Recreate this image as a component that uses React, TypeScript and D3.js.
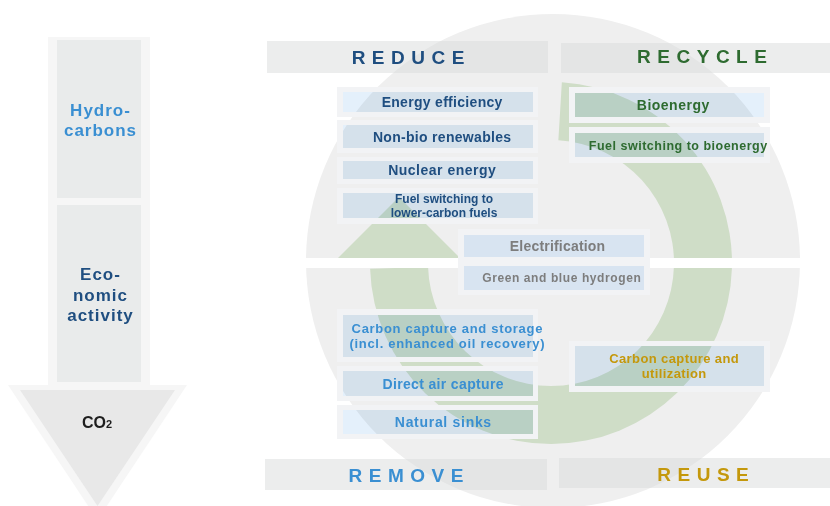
import React from "react";
import * as d3 from "d3";

// ---- content ----
const flowStages = [["Hydro-", "carbons"], ["Eco-", "nomic", "activity"]];
const flowResult = "CO";
const quadrantTitles = ["REDUCE", "RECYCLE", "REMOVE", "REUSE"];
const reduceItems = [["Energy efficiency"], ["Non-bio renewables"], ["Nuclear energy"], ["Fuel switching to", "lower-carbon fuels"]];
const recycleItems = [["Bioenergy"], ["Fuel switching to bioenergy"]];
const crossItems = [["Electrification"], ["Green and blue hydrogen"]];
const removeItems = [["Carbon capture and storage", "(incl. enhanced oil recovery)"], ["Direct air capture"], ["Natural sinks"]];
const reuseItems = [["Carbon capture and", "utilization"]];

const FONT = "'Liberation Sans', Arial, Helvetica, sans-serif";
const C = {
  dark: "#1f4e80",
  light: "#3a8fd2",
  green: "#2e6b30",
  gold: "#c4980c",
  gray: "#7d7d7d",
  circle: "#efefef",
  ring: "#cfddc7",
  frame: "#f2f3f5",
  box: "#e4f0fb",
};

type Box = { x0: number; x1: number; y0: number; y1: number };

function ItemGroup(props: {
  items: string[][];
  inner: Box[];
  frames: Box[];
  color: string;
  cx: number[];
  size: number[];
  ls: number[];
}) {
  const { items, inner, frames, color, cx, size, ls } = props;
  return (
    <g>
      {frames.map((f, i) => {
        const b = inner[i];
        const d = `M${f.x0},${f.y0}H${f.x1}V${f.y1}H${f.x0}Z M${b.x0},${b.y0}H${b.x1}V${b.y1}H${b.x0}Z`;
        return <path key={"f" + i} d={d} fill={C.frame} fillRule="evenodd" />;
      })}
      {inner.map((b, i) => (
        <rect key={"b" + i} x={b.x0} y={b.y0} width={b.x1 - b.x0} height={b.y1 - b.y0} fill={C.box} style={{ mixBlendMode: "multiply" }} />
      ))}
      {items.map((lines, i) => {
        const b = inner[i];
        const mid = (b.y0 + b.y1) / 2;
        const lh = size[i] * 1.15;
        const first = mid - ((lines.length - 1) * lh) / 2 + size[i] * 0.36;
        return (
          <text key={"t" + i} fill={color} fontFamily={FONT} fontWeight="bold" fontSize={size[i]} letterSpacing={ls[i]} textAnchor="middle">
            {lines.map((l, j) => (
              <tspan key={j} x={cx[i] + ls[i] / 2} y={first + j * lh}>
                {l}
              </tspan>
            ))}
          </text>
        );
      })}
    </g>
  );
}

export default function App() {
  const W = 830;
  const H = 506;
  // circle & ring geometry
  const cc = { x: 553, y: 261, r: 247 };
  const rc = { x: 551, y: 263 };
  const ring = d3.arc()({ innerRadius: 123, outerRadius: 181, startAngle: 0.06, endAngle: 4.68 } as any) as string;
  const midR = 152;
  const headBaseY = rc.y + 5;
  const shaftX = rc.x - midR;
  const head = d3.line()([
    [shaftX - 71, headBaseY],
    [shaftX + 71, headBaseY],
    [shaftX, headBaseY - 71],
  ]) + "Z";

  const titleBoxes: Box[] = [
    { x0: 267, x1: 548, y0: 41, y1: 73 },
    { x0: 561, x1: 830, y0: 43, y1: 73 },
    { x0: 265, x1: 547, y0: 459, y1: 490 },
    { x0: 559, x1: 830, y0: 458, y1: 488 },
  ];
  const titleColors = [C.dark, C.green, C.light, C.gold];
  const titleCx = [408, 702, 406, 703];
  const titleBase = [64, 63, 482, 481];

  const rows = (x0: number, x1: number, ys: number[][]) => ys.map(([y0, y1]) => ({ x0, x1, y0, y1 }));

  return (
    <svg width={W} height={H} style={{ position: "absolute", left: 0, top: 0 }}>
      <rect width={W} height={H} fill="#ffffff" />
      {/* left flow arrow */}
      <rect x={48} y={37} width={102} height={348} fill="#f6f6f6" />
      <path d={d3.line()([[8, 385], [187, 385], [97.5, 520]]) + "Z"} fill="#f6f6f6" />
      <rect x={57} y={40} width={84} height={158} fill="#e9ebeb" />
      <rect x={57} y={205} width={84} height={177} fill="#e9ebeb" />
      <path d={d3.line()([[20, 390], [175, 390], [97.5, 506]]) + "Z"} fill="#e8e8e8" />
      <text fill={C.light} fontFamily={FONT} fontWeight="bold" fontSize={17} letterSpacing={1} textAnchor="middle">
        {flowStages[0].map((l, j) => (
          <tspan key={j} x={100.5} y={116 + j * 20}>{l}</tspan>
        ))}
      </text>
      <text fill={C.dark} fontFamily={FONT} fontWeight="bold" fontSize={17} letterSpacing={1} textAnchor="middle">
        {flowStages[1].map((l, j) => (
          <tspan key={j} x={100.5} y={280 + j * 20.5}>{l}</tspan>
        ))}
      </text>
      <text x={97} y={428} fill="#1e1e1e" fontFamily={FONT} fontWeight="bold" fontSize={16} textAnchor="middle">
        {flowResult}
        <tspan fontSize={11}>2</tspan>
      </text>

      {/* circle */}
      <circle cx={cc.x} cy={cc.y} r={cc.r} fill={C.circle} />
      <g transform={`translate(${rc.x},${rc.y})`}>
        <path d={ring} fill={C.ring} />
      </g>
      <path d={head} fill={C.ring} />
      <rect x={300} y={258} width={510} height={10} fill="#ffffff" />

      {/* quadrant titles */}
      {titleBoxes.map((b, i) => (
        <rect key={"tb" + i} x={b.x0} y={b.y0} width={b.x1 - b.x0} height={b.y1 - b.y0} fill="rgb(217,219,219)" fillOpacity={0.5} />
      ))}
      {quadrantTitles.map((t, i) => (
        <text key={"tt" + i} x={titleCx[i] + 3.25} y={titleBase[i]} fill={titleColors[i]} fontFamily={FONT} fontWeight="bold" fontSize={19} letterSpacing={6.5} textAnchor="middle">
          {t}
        </text>
      ))}

      <ItemGroup
        items={reduceItems}
        inner={rows(343, 533, [[92, 112], [125, 148], [161, 179], [193, 218]])}
        frames={rows(337, 538, [[87, 117], [120, 153], [157, 184], [188, 224]])}
        color={C.dark}
        cx={[442, 442, 442, 444]}
        size={[14, 14, 14, 12]}
        ls={[0.3, 0.3, 0.5, 0]}
      />
      <ItemGroup
        items={recycleItems}
        inner={rows(575, 764, [[93, 117], [133, 157]])}
        frames={rows(569, 770, [[87, 123], [127, 163]])}
        color={C.green}
        cx={[673, 678]}
        size={[14, 12.5]}
        ls={[0.5, 0.5]}
      />
      <path d="M458,229H650V295H458Z" fill={C.frame} />
      <ItemGroup
        items={crossItems}
        inner={rows(464, 644, [[235, 257], [266, 290]])}
        frames={[]}
        color={C.gray}
        cx={[557.5, 561.5]}
        size={[14, 12]}
        ls={[0.2, 0.6]}
      />
      <ItemGroup
        items={removeItems}
        inner={rows(343, 533, [[315, 357], [371, 396], [410, 434]])}
        frames={rows(337, 538, [[309, 362], [366, 401], [405, 439]])}
        color={C.light}
        cx={[447, 443, 443]}
        size={[13, 14, 14]}
        ls={[0.7, 0.35, 0.7]}
      />
      <ItemGroup
        items={reuseItems}
        inner={rows(575, 764, [[346, 386]])}
        frames={rows(569, 770, [[341, 392]])}
        color={C.gold}
        cx={[674]}
        size={[13]}
        ls={[0.4]}
      />
    </svg>
  );
}
